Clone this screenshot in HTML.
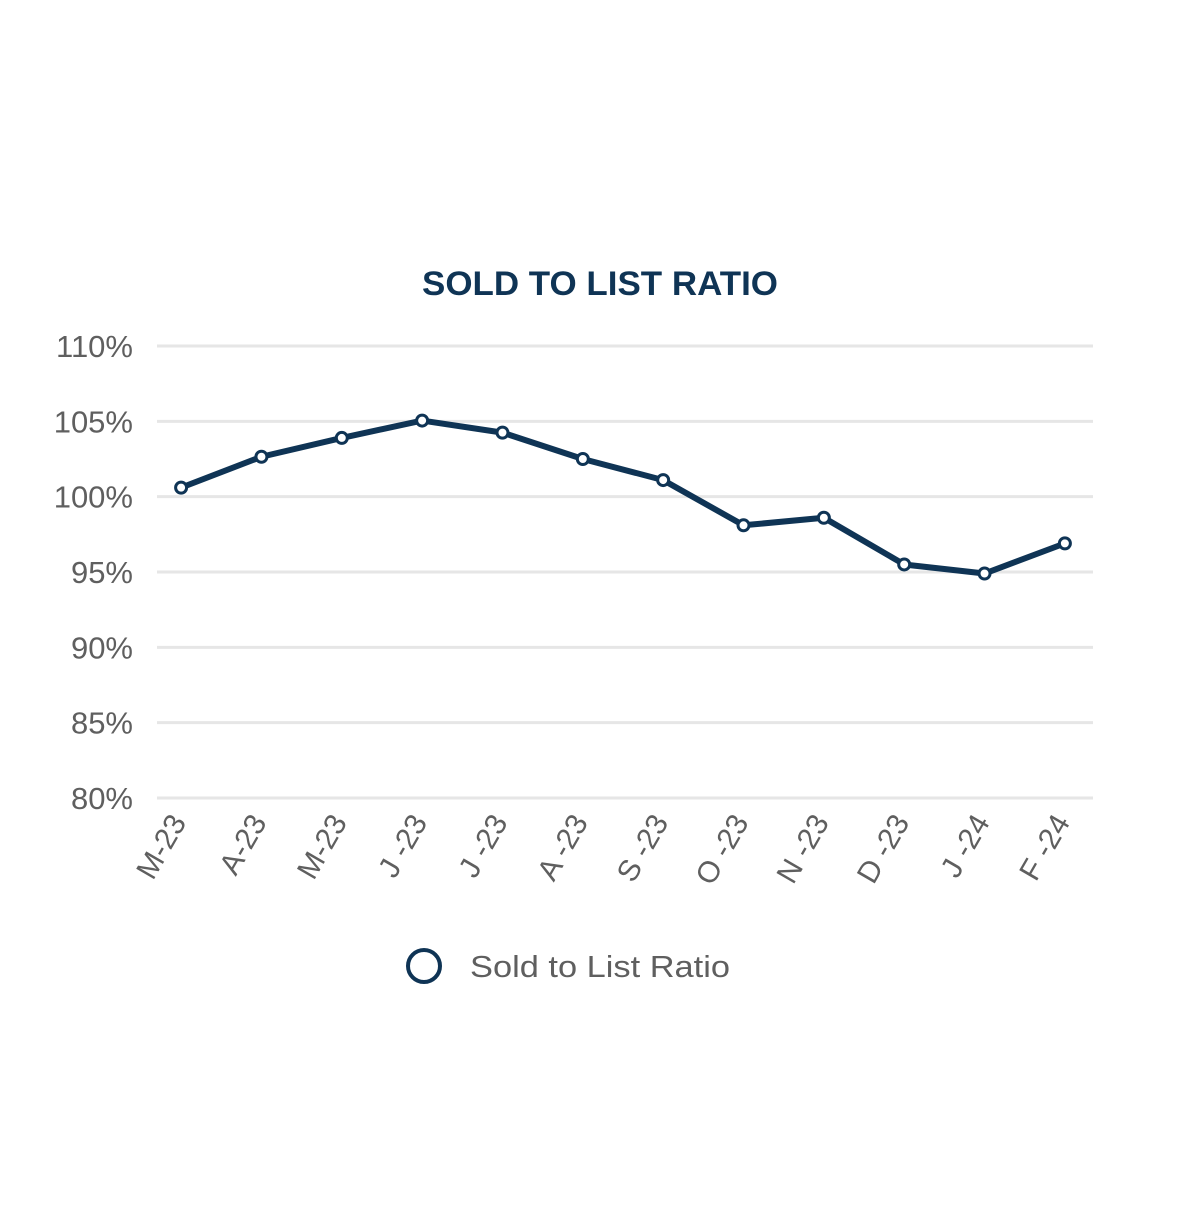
<!DOCTYPE html>
<html><head><meta charset="utf-8"><style>
body{margin:0;background:#fff;width:1200px;height:1200px;overflow:hidden;font-family:"Liberation Sans",sans-serif}
</style></head><body>
<svg id="chart" width="1200" height="1200" viewBox="0 0 1200 1200">
<text x="600" y="295" text-anchor="middle" font-size="34" font-weight="bold" fill="#0f3455" textLength="356" lengthAdjust="spacingAndGlyphs">SOLD TO LIST RATIO</text>
<g id="grid"></g><g id="yticks"></g><g id="xticks"></g><g id="series"></g>
<g>
<circle cx="424" cy="966" r="16" fill="#fff" stroke="#0f3455" stroke-width="4"/>
<text x="470" y="977" font-size="31" fill="#5f5f5f" textLength="260" lengthAdjust="spacingAndGlyphs">Sold to List Ratio</text>
</g>
</svg>
<script>
const categories=["M-23","A-23","M-23","J -23","J -23","A -23","S -23","O -23","N -23","D -23","J -24","F -24"];
const values=[100.6,102.65,103.9,105.05,104.25,102.5,101.1,98.1,98.6,95.5,94.9,96.9];
const yTicks=[80,85,90,95,100,105,110];
const NS="http://www.w3.org/2000/svg";
const x0=157,x1=1093,yTop=346,yBot=798;
const y=v=>yBot-(v-80)/30*(yBot-yTop);
const x=i=>x0+(i+0.3)*(x1-x0)/11.65;
function mk(t,a,p){const e=document.createElementNS(NS,t);for(const k in a)e.setAttribute(k,a[k]);p.appendChild(e);return e;}
const grid=document.getElementById('grid'),yt=document.getElementById('yticks'),xt=document.getElementById('xticks'),se=document.getElementById('series');
yTicks.forEach(v=>{
 const l=mk('line',{x1:x0,x2:x1,y1:y(v),y2:y(v),stroke:'#e6e6e6','stroke-width':3},grid);
 
 
 const t=mk('text',{x:133,y:y(v)+11,'text-anchor':'end','font-size':31,fill:'#5f5f5f'},yt);
 t.textContent=v+'%';
 
 
});
categories.forEach((c,i)=>{
 const t=mk('text',{transform:`translate(${x(i)+6},${822}) rotate(-60)`,'text-anchor':'end','font-size':30,fill:'#5f5f5f'},xt);
 t.textContent=c;
 
 
});
const pl=mk('polyline',{points:values.map((v,i)=>x(i)+','+y(v)).join(' '),fill:'none',stroke:'#0f3455','stroke-width':6,'stroke-linejoin':'round'},se);


values.forEach((v,i)=>{
 const c=mk('circle',{cx:x(i),cy:y(v),r:5.5,fill:'#fff',stroke:'#0f3455','stroke-width':3},se);
 
 
});
</script>
</body></html>
